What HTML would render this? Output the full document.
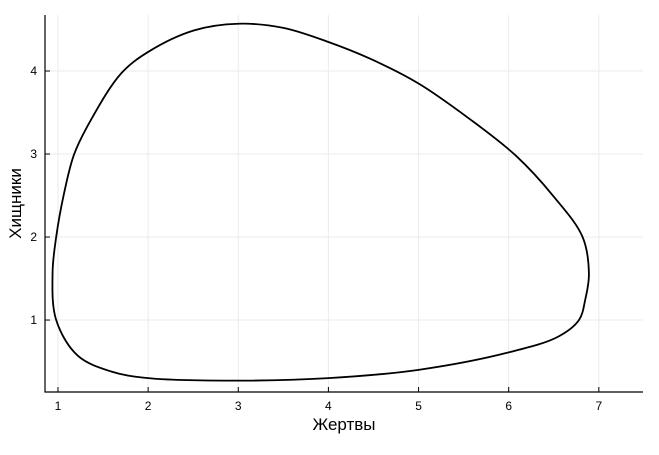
<!DOCTYPE html>
<html><head><meta charset="utf-8"><style>
html,body{margin:0;padding:0;background:#fff;}
svg text{font-family:"Liberation Sans","DejaVu Sans",sans-serif;}
</style></head><body>
<svg id="chart" width="659" height="450" xmlns="http://www.w3.org/2000/svg"></svg>
<script>
const xTicks = [1,2,3,4,5,6,7];
const yTicks = [1,2,3,4];
const preyValues = [0.94,0.98,1.07,1.18,1.36,1.7,2.0,2.51,3.0,3.5,4.0,4.46,5.0,5.57,6.08,6.49,6.82,6.89,6.85,6.78,6.55,6.0,5.0,4.0,3.0,2.0,1.59,1.22,0.98];
const predatorValues = [1.57,2.0,2.54,3.0,3.4,3.97,4.23,4.49,4.57,4.52,4.35,4.15,3.85,3.42,2.98,2.5,2.0,1.55,1.25,1.0,0.8,0.61,0.40,0.30,0.27,0.30,0.38,0.57,1.0];
const xLabel = "Жертвы";
const yLabel = "Хищники";

const L=45,R=643,T=15,B=392;
const xMin=0.856,xMax=7.49,yMin=0.133,yMax=4.675;
const sx=v=>L+(v-xMin)/(xMax-xMin)*(R-L);
const sy=v=>B-(v-yMin)/(yMax-yMin)*(B-T);
const svg=document.getElementById('chart');
const NS='http://www.w3.org/2000/svg';
function mk(tag,attrs){const e=document.createElementNS(NS,tag);for(const k in attrs)e.setAttribute(k,attrs[k]);svg.appendChild(e);return e;}

xTicks.forEach(t=>{
  const g=mk('line',{x1:sx(t),x2:sx(t),y1:T,y2:B,stroke:'#ebebeb','stroke-width':1});
  
  
  const tk=mk('line',{x1:sx(t),x2:sx(t),y1:B,y2:B-5,stroke:'#000','stroke-width':1});
  
  
  const lb=mk('text',{x:sx(t),y:B+18,'font-size':12,'text-anchor':'middle',fill:'#000'});
  lb.textContent=t;
  
  
});
yTicks.forEach(t=>{
  const g=mk('line',{x1:L,x2:R,y1:sy(t),y2:sy(t),stroke:'#ebebeb','stroke-width':1});
  
  
  const tk=mk('line',{x1:L,x2:L+5,y1:sy(t),y2:sy(t),stroke:'#000','stroke-width':1});
  
  
  const lb=mk('text',{x:L-8,y:sy(t)+4,'font-size':12,'text-anchor':'end',fill:'#000'});
  lb.textContent=t;
  
  
});
const ax=mk('path',{d:`M${L},${T} V${B} H${R}`,fill:'none',stroke:'#000','stroke-width':1.2});



// closed centripetal Catmull-Rom curve through data points
const pts=preyValues.map((x,i)=>[sx(x),sy(predatorValues[i])]);
const n=pts.length;let d=`M${pts[0][0]},${pts[0][1]}`;
const dist=(a,b)=>Math.pow(Math.hypot(b[0]-a[0],b[1]-a[1]),0.5)||1e-6;
for(let i=0;i<n;i++){
  const p0=pts[(i-1+n)%n],p1=pts[i],p2=pts[(i+1)%n],p3=pts[(i+2)%n];
  const d1=dist(p0,p1),d2=dist(p1,p2),d3=dist(p2,p3);
  const c1=[0,1].map(k=>(d1*d1*p2[k]-d2*d2*p0[k]+(2*d1*d1+3*d1*d2+d2*d2)*p1[k])/(3*d1*(d1+d2)));
  const c2=[0,1].map(k=>(d3*d3*p1[k]-d2*d2*p3[k]+(2*d3*d3+3*d3*d2+d2*d2)*p2[k])/(3*d3*(d3+d2)));
  d+=` C${c1[0]},${c1[1]} ${c2[0]},${c2[1]} ${p2[0]},${p2[1]}`;
}
const line=mk('path',{d:d+'Z',fill:'none',stroke:'#000','stroke-width':1.8});



const xt=mk('text',{x:(L+R)/2,y:430,'font-size':17,'text-anchor':'middle',fill:'#000'});
xt.textContent=xLabel;


const yt=mk('text',{x:0,y:0,'font-size':17,'text-anchor':'middle',fill:'#000',transform:`translate(21,${(T+B)/2}) rotate(-90)`});
yt.textContent=yLabel;


</script>
</body></html>
